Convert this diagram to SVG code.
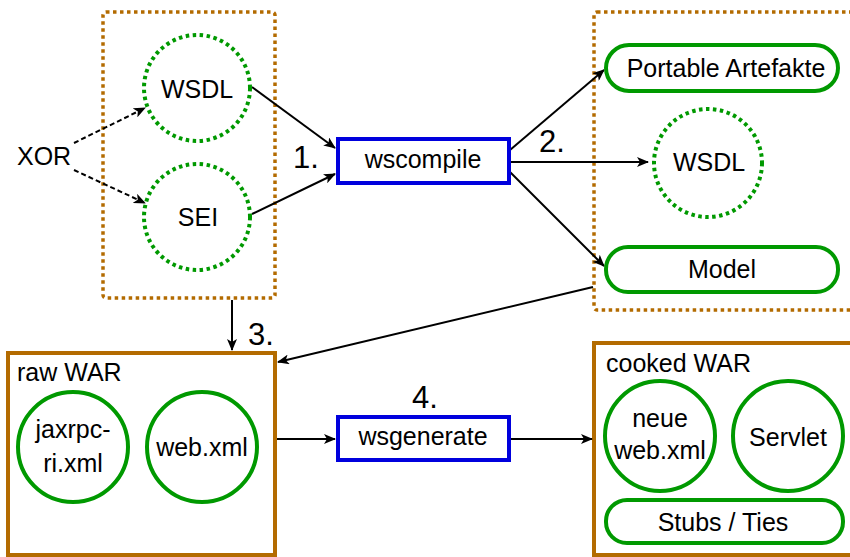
<svg xmlns="http://www.w3.org/2000/svg" width="850" height="557" viewBox="0 0 850 557">
<defs>
<style>
text{font-family:"Liberation Sans",Arial,sans-serif;font-size:25px;fill:#000}
.num{font-size:31px}
.mid{text-anchor:middle}
.dotbox{fill:none;stroke:#b36b00;stroke-width:3.5;stroke-dasharray:3.5 3.5}
.box{fill:#fff;stroke:#b36b00;stroke-width:4}
.dotc{fill:#fff;stroke:#009900;stroke-width:4;stroke-dasharray:3.5 3.5}
.gc{fill:#fff;stroke:#009900;stroke-width:4}
.tool{fill:#fff;stroke:#0000dd;stroke-width:4}
.ln{fill:none;stroke:#000;stroke-width:2;marker-end:url(#ah)}
.dash{stroke-dasharray:5 3}
</style>
<marker id="ah" viewBox="0 0 12 10" refX="11" refY="5" markerWidth="12" markerHeight="10" markerUnits="userSpaceOnUse" orient="auto">
<path d="M0,0 L12,5 L0,10 L3,5 z" fill="#000"/>
</marker>
</defs>
<rect width="850" height="557" fill="#fff"/>
<g id="input-group">
<rect class="dotbox" x="103" y="12" width="172" height="286" rx="3"/>
</g>
<g id="output-group">
<rect class="dotbox" x="594" y="12" width="262" height="298" rx="3"/>
</g>
<g id="raw-war">
<rect class="box" x="8" y="353" width="267" height="202"/>
<text x="17" y="381">raw WAR</text>
</g>
<g id="cooked-war">
<rect class="box" x="594" y="343" width="262" height="212"/>
<text x="606" y="372">cooked WAR</text>
</g>
<g id="connectors">
<path class="ln dash" d="M74,143 L145,108"/>
<path class="ln dash" d="M74,170 L145,203"/>
<path class="ln" d="M252,87 L335,148"/>
<path class="ln" d="M252,214 L335,174"/>
<path class="ln" d="M510,150 L604,70"/>
<path class="ln" d="M510,162 L648,162"/>
<path class="ln" d="M510,172 L604,266"/>
<path class="ln" d="M232,300 L232,350"/>
<path class="ln" d="M593,287 L278,362"/>
<path class="ln" d="M277,439 L335,439"/>
<path class="ln" d="M510,439 L592,439"/>
</g>
<g id="xor"><text x="17" y="165">XOR</text></g>
<g id="wsdl-in">
<circle class="dotc" cx="197" cy="88" r="53"/>
<text class="mid" x="197" y="98">WSDL</text>
</g>
<g id="sei">
<circle class="dotc" cx="197" cy="217" r="53"/>
<text class="mid" x="198" y="226">SEI</text>
</g>
<g id="wscompile">
<rect class="tool" x="338" y="139" width="171" height="44"/>
<text class="mid" x="423" y="168">wscompile</text>
</g>
<g id="portable">
<rect class="gc" x="606" y="45" width="232" height="46" rx="23"/>
<text class="mid" x="726" y="77">Portable Artefakte</text>
</g>
<g id="wsdl-out">
<circle class="dotc" cx="708" cy="163" r="54"/>
<text class="mid" x="709" y="171">WSDL</text>
</g>
<g id="model">
<rect class="gc" x="606" y="247" width="232" height="45" rx="22"/>
<text class="mid" x="722" y="278">Model</text>
</g>
<g id="jaxrpc">
<circle class="gc" cx="73" cy="447" r="55"/>
<text class="mid" x="73" y="438">jaxrpc-</text>
<text class="mid" x="73" y="472">ri.xml</text>
</g>
<g id="webxml">
<circle class="gc" cx="202" cy="447" r="55"/>
<text class="mid" x="202" y="456">web.xml</text>
</g>
<g id="wsgenerate">
<rect class="tool" x="338" y="417" width="171" height="43"/>
<text class="mid" x="423" y="445">wsgenerate</text>
</g>
<g id="neue">
<circle class="gc" cx="660" cy="436" r="55"/>
<text class="mid" x="660" y="427">neue</text>
<text class="mid" x="660" y="459">web.xml</text>
</g>
<g id="servlet">
<circle class="gc" cx="788" cy="436" r="55"/>
<text class="mid" x="788" y="446">Servlet</text>
</g>
<g id="stubs">
<rect class="gc" x="606" y="500" width="237" height="43" rx="21"/>
<text class="mid" x="723" y="531">Stubs / Ties</text>
</g>
<g id="steps">
<text class="num" x="293" y="168">1.</text>
<text class="num" x="539" y="152">2.</text>
<text class="num" x="248" y="345">3.</text>
<text class="num" x="412" y="408">4.</text>
</g>
</svg>
